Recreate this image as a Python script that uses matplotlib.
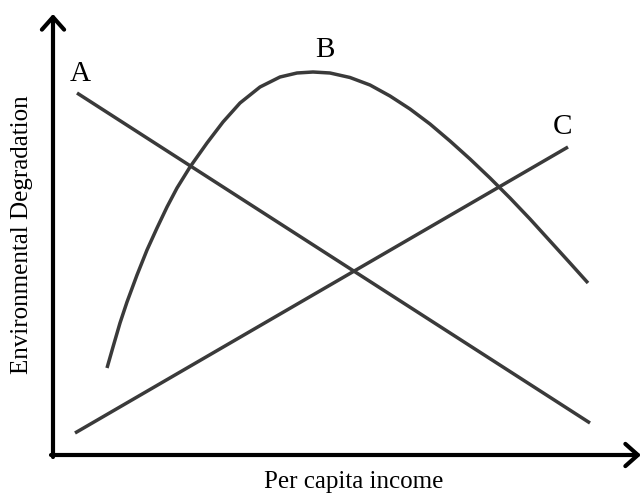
import numpy as np
import matplotlib
matplotlib.use("Agg")
import matplotlib.pyplot as plt

# values measured from the axis corner (income to the right, degradation upward)
a_income = [24, 537]
a_degr = [362, 32]

c_income = [22, 515]
c_degr = [22, 308]

b_income = [54, 60, 67, 74, 84, 94, 104, 114, 124, 137, 154, 170, 187, 207, 227, 244, 260,
            277, 297, 317, 337, 357, 377, 397, 417, 437, 457, 477, 497, 517, 535]
b_degr = [87, 108, 132, 153, 180, 205, 227, 248, 267, 288, 312, 333, 352, 368, 378, 382, 383,
          382, 377.5, 370, 359, 346, 331, 314, 296, 277, 257, 236, 214, 192, 172]

x_label = "Per capita income"
y_label = "Environmental Degradation"

plt.rcParams['font.family'] = ['Liberation Serif', 'DejaVu Serif']

fig = plt.figure(figsize=(6.42, 4.97), dpi=100)
ax = fig.add_axes([0, 0, 1, 1])
ax.set_xlim(-53, 589)
ax.set_ylim(-42, 455)
ax.axis("off")

line_col = "#3a3a3a"
ax.plot(a_income, a_degr, color=line_col, lw=2.5, solid_capstyle="butt")
ax.plot(c_income, c_degr, color=line_col, lw=2.5, solid_capstyle="butt")
ax.plot(b_income, b_degr, color=line_col, lw=2.5, solid_capstyle="butt",
        solid_joinstyle="round")

# axes with open arrow heads
arr = dict(arrowstyle="->,head_length=0.9,head_width=0.8", lw=3, color="black",
           shrinkA=0, shrinkB=0)
ax.annotate("", xy=(0, 441), xytext=(0, -2), arrowprops=arr)
ax.annotate("", xy=(588, 0), xytext=(-2, 0), arrowprops=arr)

ax.text(27, 381, "A", fontsize=21, ha="center", va="center")
ax.text(272, 405, "B", fontsize=21, ha="center", va="center")
ax.text(510, 328, "C", fontsize=21, ha="center", va="center")

ax.text(301, -27, x_label, fontsize=18, ha="center", va="center")
ax.text(-31, 220, y_label, fontsize=18, ha="center", va="center", rotation=90)

fig.savefig("out.png", dpi=100)
